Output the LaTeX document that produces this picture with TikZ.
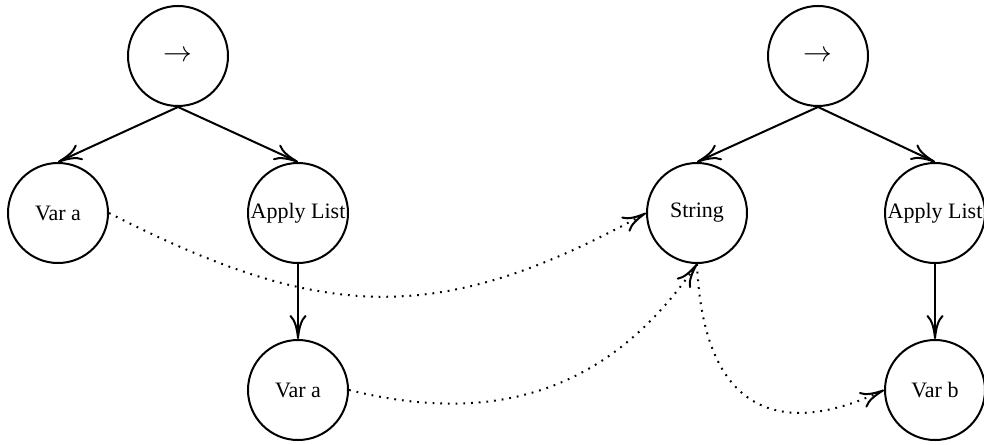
\documentclass[tikz,border=0pt]{standalone}
\usepackage{fontspec}
\setmainfont{Liberation Serif}
\usetikzlibrary{arrows.meta}

\tikzset{
  treenode/.style={circle, draw, line width=1pt, minimum size=50pt, inner sep=0pt,
                   font=\fontsize{11}{13}\selectfont},
  tip/.style={-{To[length=12pt,width=8.5pt,line width=1pt]}},
  edge/.style={line width=1pt, tip},
  link/.style={line width=1pt, dash pattern=on 0.9pt off 2.95pt, tip}
}

\begin{document}
\begin{tikzpicture}[x=0.5pt, y=-0.5pt]
  \useasboundingbox (0,0) rectangle (984,444);

  % left tree
  \node[treenode] (lroot)  at (178,56)  {\fontsize{15.5}{17}\selectfont$\rightarrow$};
  \node[treenode] (lvar)   at (58,213)  {Var a};
  \node[treenode] (lapply) at (298,213) {Apply List};
  \node[treenode] (larg)   at (298,390) {Var a};

  % right tree
  \node[treenode] (rroot)  at (818,56)  {\fontsize{15.5}{17}\selectfont$\rightarrow$};
  \node[treenode] (rstr)   at (697,213) {String};
  \node[treenode] (rapply) at (935,213) {Apply List};
  \node[treenode] (rarg)   at (935,390) {Var b};

  % tree edges
  \draw[edge] (lroot.south)  -- (lvar.north);
  \draw[edge] (lroot.south)  -- (lapply.north);
  \draw[edge] (lapply.south) -- (larg.north);
  \draw[edge] (rroot.south)  -- (rstr.north);
  \draw[edge] (rroot.south)  -- (rapply.north);
  \draw[edge] (rapply.south) -- (rarg.north);

  % dotted links between the trees
  \draw[link] (lvar.east) .. controls +(212,108) and +(-208,115) .. (rstr.west);
  \draw[link] (larg.east) .. controls +(180,45) and +(-68,98) .. (rstr.south);
  \draw[link] (rstr.south) .. controls +(6,142) and +(-110,52) .. (rarg.west);
\end{tikzpicture}
\end{document}
